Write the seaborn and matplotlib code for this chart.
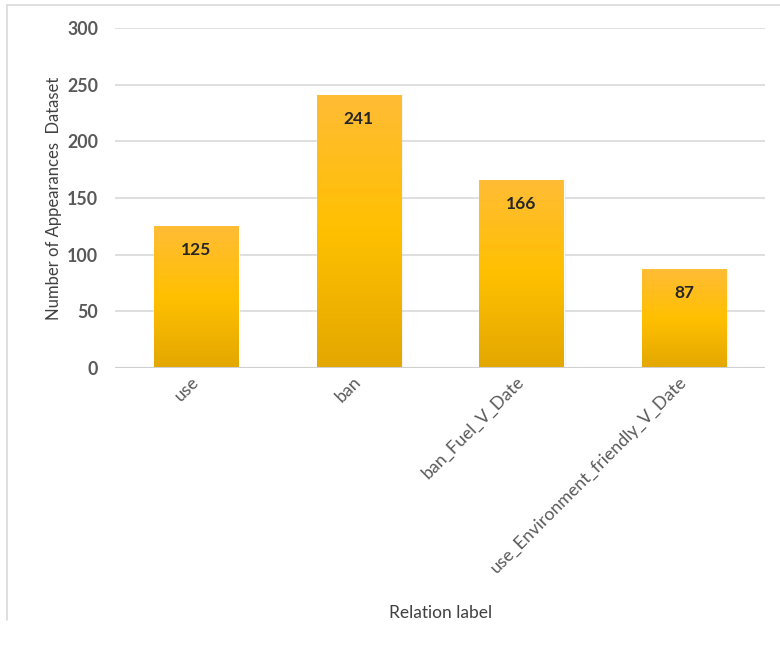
import numpy as np
import pandas as pd
import matplotlib
matplotlib.use("Agg")
import matplotlib.pyplot as plt
from matplotlib.colors import LinearSegmentedColormap
from matplotlib.lines import Line2D
import seaborn as sns

# Chart data
relations = ["use", "ban", "ban_Fuel_V_Date", "use_Environment_friendly_V_Date"]
appearances = [125, 241, 166, 87]
y_ticks = [0, 50, 100, 150, 200, 250, 300]

df = pd.DataFrame({"relation": relations, "count": appearances})

sns.set_theme(style="white")
plt.rcParams["font.family"] = ["Lato", "DejaVu Sans"]

fig = plt.figure(figsize=(7.8, 6.47), dpi=100)
ax = fig.add_axes([0.1474, 0.4312, 0.8336, 0.5255])

sns.barplot(data=df, x="relation", y="count", color="#FFC000", width=0.52,
            ax=ax, zorder=3, saturation=1)

ax.set_ylim(0, 300)
ax.set_xlim(-0.5, len(relations) - 0.5)
ax.set_yticks(y_ticks)
ax.yaxis.grid(True, color="#D9D9D9", linewidth=1.2, zorder=0)
ax.xaxis.grid(False)
for s in ax.spines.values():
    s.set_visible(False)
ax.axhline(0, color="#D0D0D0", linewidth=1.5, zorder=4)

# Vertical gradient fill and soft shadow for each bar
grad = LinearSegmentedColormap.from_list(
    "gold", ["#E3A700", "#FFC000", "#FFBC36"])
gradient = np.linspace(0, 1, 256).reshape(-1, 1)
for patch in list(ax.patches):
    x0, y0 = patch.get_x(), patch.get_y()
    w, h = patch.get_width(), patch.get_height()
    for k, a in enumerate([0.10, 0.06, 0.03]):
        sh = plt.Rectangle((x0 + 0.006 * (k + 1), y0), w, h - 0.5,
                           color="#808080", alpha=a, zorder=2, lw=0)
        ax.add_patch(sh)
    im = ax.imshow(gradient, cmap=grad, aspect="auto", origin="lower",
                   extent=[x0, x0 + w, y0, y0 + h], zorder=3.5)
    im.set_clip_path(patch)
    patch.set_facecolor("none")

ax.set_aspect("auto")
ax.set_xlim(-0.5, len(relations) - 0.5)
ax.set_ylim(0, 300)

# Value labels inside the top of each bar
for i, v in enumerate(appearances):
    ax.text(i, v - 14, f"{v}", ha="center", va="top", fontsize=12.5,
            color="#262626", fontweight="bold", zorder=5)

ax.tick_params(axis="both", length=0, colors="#595959", labelsize=12.8)
ax.tick_params(axis="y", pad=12)
for lab in ax.get_yticklabels():
    lab.set_fontweight("bold")
    lab.set_color("#595959")
ax.set_xticks(range(len(relations)))
ax.set_xticklabels(relations, rotation=45, ha="right", va="center",
                   rotation_mode="anchor", color="#595959", fontsize=12.8)
ax.tick_params(axis="x", pad=8)

ax.set_xlabel("Relation label", fontsize=12.5, color="#404040", labelpad=21)
ax.set_ylabel("Number of Appearances  Dataset", fontsize=12,
              color="#404040", labelpad=4)

# Light frame along the top and left edges
fig.add_artist(Line2D([7 / 780, 1.0], [1 - 5 / 647, 1 - 5 / 647],
                      transform=fig.transFigure, color="#D9D9D9", lw=1.2))
fig.add_artist(Line2D([7 / 780, 7 / 780], [1 - 5 / 647, 1 - 620 / 647],
                      transform=fig.transFigure, color="#D9D9D9", lw=1.2))

fig.savefig("out.png", dpi=100)
